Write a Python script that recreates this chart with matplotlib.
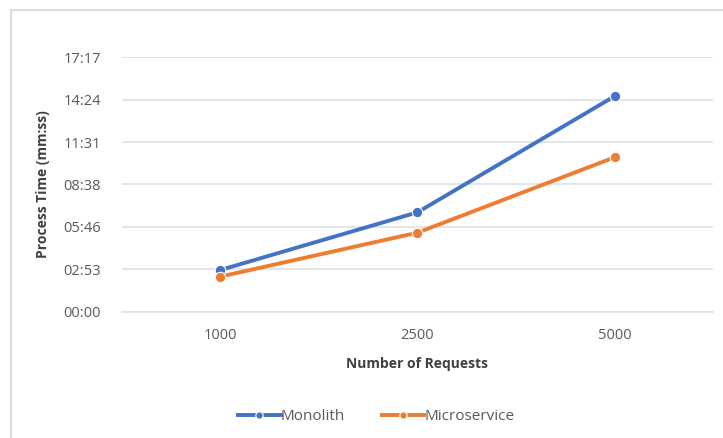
import matplotlib.pyplot as plt
from matplotlib.lines import Line2D
from matplotlib.ticker import FuncFormatter, MultipleLocator

# Process times in seconds
requests = ['1000', '2500', '5000']
monolith = [170, 405, 878]
microservice = [143, 322, 629]

plt.rcParams['font.family'] = ['Open Sans', 'DejaVu Sans']

fig = plt.figure(figsize=(7.23, 4.38), dpi=100)
ax = fig.add_axes([0.1687, 0.2884, 0.8175, 0.5808])

# chart frame (light gray, top and left edges visible)
fig.add_artist(Line2D([11/723, 1.0], [1 - 10/438, 1 - 10/438], color='#d9dce6', lw=1.5))
fig.add_artist(Line2D([11/723, 11/723], [0.0, 1 - 10/438], color='#d9dce6', lw=1.5))

x = range(len(requests))
ax.plot(x, monolith, color='#4472C4', lw=2.8, marker='o', markersize=7.5,
        markeredgecolor='white', markeredgewidth=0.8, label='Monolith', zorder=3)
ax.plot(x, microservice, color='#ED7D31', lw=2.8, marker='o', markersize=7.5,
        markeredgecolor='white', markeredgewidth=0.8, label='Microservice', zorder=3)

step = 172.8  # 0.002 day
ax.set_ylim(0, step * 6)
ax.set_xlim(-0.5, 2.5)
ax.yaxis.set_major_locator(MultipleLocator(step))


def mmss(v, pos):
    s = int(round(v))
    return '%02d:%02d' % (s // 60, s % 60)


ax.yaxis.set_major_formatter(FuncFormatter(mmss))
ax.set_xticks(list(x))
ax.set_xticklabels(requests)
ax.grid(axis='y', color='#dde1e8', lw=1.2)
ax.set_axisbelow(True)
for side in ['top', 'right', 'left']:
    ax.spines[side].set_visible(False)
ax.spines['bottom'].set_color('#dde1e8')
ax.spines['bottom'].set_linewidth(1.2)
ax.tick_params(length=0, labelsize=10.5, colors='#595959', pad=15)
ax.tick_params(axis='x', pad=12)

ax.set_xlabel('Number of Requests', fontsize=10, fontweight='bold', color='#404040', labelpad=10)
ax.set_ylabel('Process Time (mm:ss)', fontsize=10, fontweight='bold', color='#404040', labelpad=10)

ax.legend(loc='upper center', bbox_to_anchor=(0.43, -0.33), ncol=2, frameon=False,
          fontsize=11, labelcolor='#595959', handlelength=2.8, handletextpad=0.0,
          columnspacing=2.4, markerscale=0.7)

fig.savefig('out.png', dpi=100, facecolor='white')
